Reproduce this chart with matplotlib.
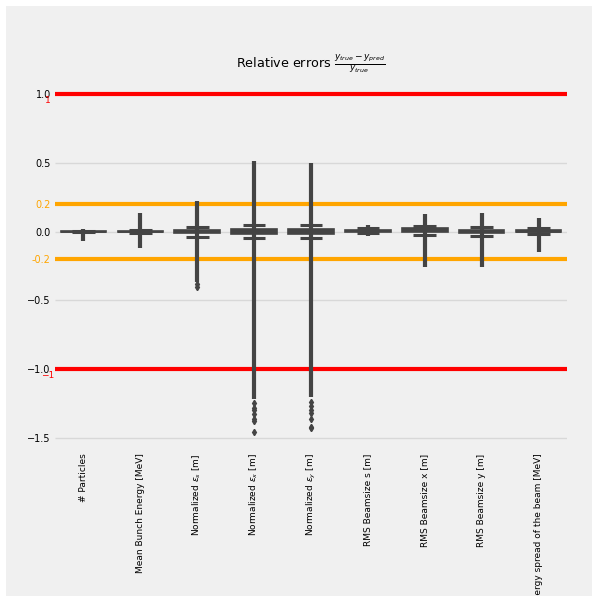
import matplotlib
matplotlib.use("Agg")
import matplotlib.pyplot as plt
from matplotlib.patches import Rectangle
import matplotlib.transforms as mtransforms

plt.style.use("fivethirtyeight")

categories = ["# Particles", "Mean Bunch Energy [MeV]", r"Normalized $\varepsilon_s$ [m]",
              r"Normalized $\varepsilon_x$ [m]", r"Normalized $\varepsilon_y$ [m]",
              "RMS Beamsize s [m]", "RMS Beamsize x [m]", "RMS Beamsize y [m]",
              "Energy spread of the beam [MeV]"]
q1 = [-0.002, -0.003, -0.012, -0.018, -0.018, 0.0, 0.0, -0.008, -0.005]
med = [0.0, 0.0, 0.0, 0.0, 0.0, 0.006, 0.01, 0.0, 0.0]
q3 = [0.002, 0.003, 0.012, 0.018, 0.018, 0.012, 0.022, 0.01, 0.008]
whislo = [-0.006, -0.01, -0.04, -0.047, -0.047, -0.008, -0.025, -0.03, -0.02]
whishi = [0.006, 0.01, 0.03, 0.047, 0.047, 0.022, 0.04, 0.035, 0.025]
flier_dense_top = [0.018, 0.134, 0.225, 0.51, 0.50, 0.05, 0.125, 0.134, 0.10]
flier_dense_bottom = [-0.067, -0.12, -0.37, -1.22, -1.20, -0.035, -0.26, -0.26, -0.15]
flier_sparse = [[], [], [-0.385, -0.40], [-1.25, -1.28, -1.30, -1.33, -1.36, -1.38, -1.46],
                [-1.24, -1.27, -1.30, -1.32, -1.36, -1.42, -1.43], [], [], [], []]
yticks_major = [-1.5, -1.0, -0.5, 0.0, 0.5, 1.0]
yticks_orange = [-0.2, 0.2]
red_levels = [-1.0, 1.0]

fig = plt.figure(figsize=(5.92, 5.96), dpi=100, facecolor="white")
fig.patches.append(Rectangle((6 / 592, -0.01), 1.02, 1.01 - 6 / 596, transform=fig.transFigure,
                             facecolor="#f0f0f0", edgecolor="none", zorder=-10))
ax = fig.add_axes([55 / 592, (596 - 449.3) / 596, 512 / 592, (449.3 - 77) / 596])
ax.set_facecolor("#f0f0f0")

gray = "#444444"
stats = []
for i in range(len(categories)):
    stats.append(dict(med=med[i], q1=q1[i], q3=q3[i], whislo=whislo[i], whishi=whishi[i],
                      fliers=flier_sparse[i]))
pos = list(range(len(categories)))
ax.bxp(stats, positions=pos, widths=0.8, capwidths=0.4, patch_artist=True,
       boxprops=dict(facecolor=gray, edgecolor=gray, linewidth=1.2),
       medianprops=dict(color=gray, linewidth=1.2),
       whiskerprops=dict(color=gray, linewidth=2.8),
       capprops=dict(color=gray, linewidth=2.2),
       flierprops=dict(marker="d", markersize=3.2, markerfacecolor=gray, markeredgecolor=gray),
       zorder=3)
ax.vlines(pos, flier_dense_bottom, flier_dense_top, color=gray, linewidth=3.0, zorder=3)

for lv in red_levels:
    ax.axhline(lv, color="red", linewidth=3, zorder=2)
for lv in yticks_orange:
    ax.axhline(lv, color="orange", linewidth=3, zorder=2)

ax.set_xlim(-0.5, len(categories) - 0.5)
ax.set_ylim(-1.583, 1.123)
ax.set_xticks(pos)
ax.set_xticklabels(categories, rotation=90, fontsize=6.5)
ticks = sorted(yticks_major + yticks_orange)
ax.set_yticks(ticks)
ax.set_yticklabels([f"{t:.1f}".replace("-", "\u2212") if t not in yticks_orange else f"{t:.1f}" for t in ticks],
                   fontsize=7)
for lab, t in zip(ax.get_yticklabels(), ticks):
    if t in yticks_orange:
        lab.set_color("orange")
ax.grid(axis="x", visible=False)
ax.grid(axis="y", color="#d8d8d8", linewidth=1, zorder=0)
ax.set_axisbelow(True)
ax.tick_params(axis="both", length=0, pad=3)

trans = mtransforms.blended_transform_factory(ax.transAxes, ax.transData)
for lv in red_levels:
    ax.text(-0.0137, lv - 0.045, f"{int(lv)}".replace("-", "\u2212") if lv < 0 else f"{int(lv)}",
            transform=trans, color="red", fontsize=6.5, ha="center", va="center")

ax.set_title(r"Relative errors $\frac{y_{true}-y_{pred}}{y_{true}}$", fontsize=9.2, pad=7)
for s in ax.spines.values():
    s.set_visible(False)

fig.savefig("out.png", dpi=100, facecolor="white")
